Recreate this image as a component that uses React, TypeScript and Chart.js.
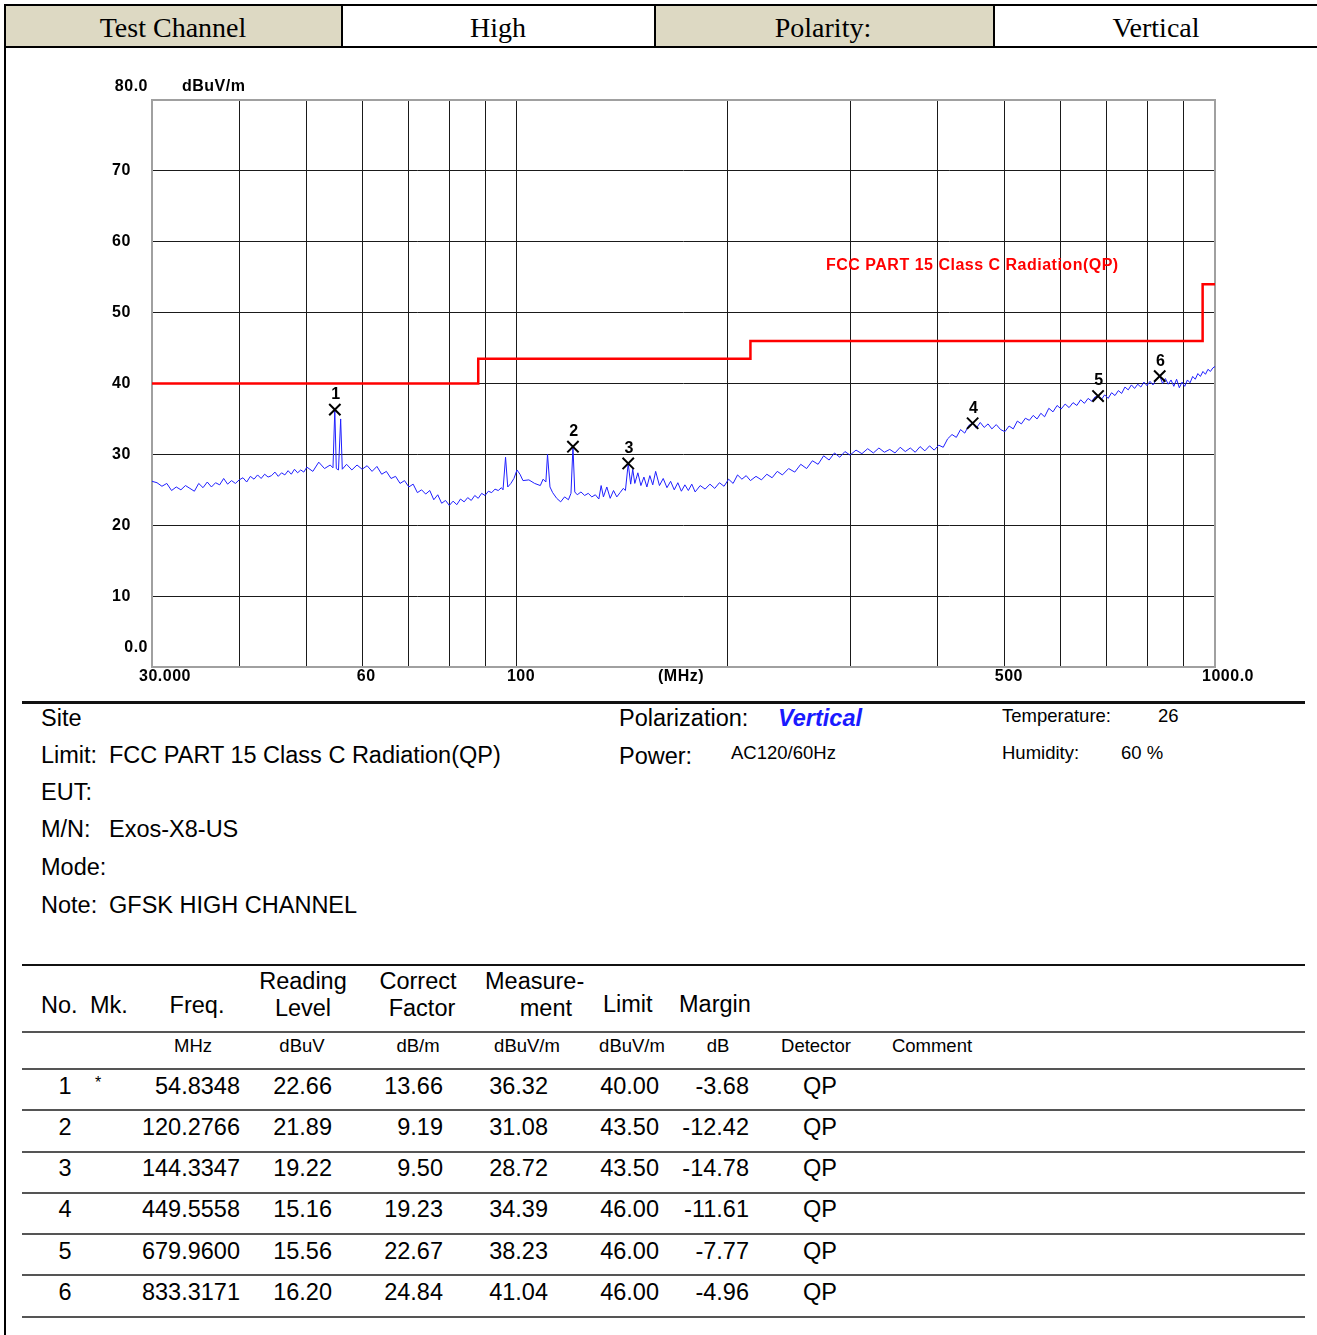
import React, { useEffect, useRef } from "react";
import { Chart, registerables } from "chart.js";

Chart.register(...registerables);

// ---------- DATA ----------
const lowBandFreq = [
  30, 30.5, 31, 31.5, 32, 32.5, 33, 33.5, 34, 34.5, 35, 35.5, 36, 36.5, 37, 37.5, 38, 38.5, 39, 39.5,
  40, 40.5, 41, 41.5, 42, 42.5, 43, 43.5, 44, 44.5, 45, 45.5, 46, 46.5, 47, 47.5, 48, 48.5, 49, 49.5,
  50, 51, 52, 53, 54, 54.5, 54.83, 55.1, 55.5, 55.9, 56.2, 57, 58, 59,
];
const lowBandLevel = [
  26.2, 26.0, 25.5, 25.9, 24.9, 25.4, 25.0, 25.6, 25.2, 24.8, 25.9, 25.3, 26.1, 25.4, 26.0, 25.7, 26.6, 25.8, 26.3, 25.9,
  26.4, 26.7, 26.1, 26.9, 26.5, 27.1, 26.6, 27.2, 26.8, 27.0, 27.5, 26.9, 27.4, 27.1, 27.7, 27.2, 27.9, 27.4, 27.8, 27.5,
  28.2, 27.6, 28.9, 28.0, 28.5, 28.1, 36.3, 28.0, 27.8, 35.0, 27.9, 28.6, 27.8, 28.5,
];
const midBandFreq = [
  60, 61, 62, 63, 64, 65, 66, 67, 68, 69, 70, 71, 72, 73, 74, 75, 76, 77, 78, 79,
  80, 81, 82, 83, 84, 85, 86, 87, 88, 89, 90, 91, 92, 93, 94, 95, 95.5, 96.3, 97, 98,
  99, 100, 101, 102, 104, 106, 108, 109, 110, 110.6, 111.5, 112.5, 114, 115.5, 117, 118.5, 119.5, 120.28, 121, 122,
  123.5, 125, 126.5, 128, 129.5, 131, 132, 133, 134.5, 136, 137.5, 139, 140.5, 142, 143, 144.33, 145.5, 146.5, 147.5, 149,
  150.5, 152, 153.5, 155, 156.5, 158, 160, 162, 164, 166, 168, 170, 172, 174, 176, 178, 180, 183, 186, 189,
  192, 195, 198,
];
const midBandLevel = [
  27.9, 28.4, 27.6, 28.3, 27.2, 27.6, 26.6, 26.9, 25.9, 26.3, 25.4, 25.8, 24.6, 25.0, 24.4, 24.9, 23.6, 24.3, 23.1, 23.5,
  22.8, 23.4, 22.9, 23.7, 23.3, 23.9, 23.5, 24.2, 23.8, 24.5, 24.2, 24.8, 24.6, 25.1, 24.9, 25.3, 25.0, 29.6, 25.4, 25.9,
  26.6, 27.8, 27.2, 26.3, 26.4, 25.9, 25.6, 26.5, 26.1, 30.0, 25.4, 24.6, 23.8, 23.3, 24.0, 23.6, 24.5, 31.1, 24.7, 24.3,
  24.7, 24.2, 24.5, 24.0, 24.3, 23.7, 25.6, 24.0, 25.4, 23.8, 24.9, 24.0, 24.6, 25.2, 24.9, 28.7, 25.8, 27.9, 25.9, 27.4,
  25.6, 26.8, 25.4, 27.0, 25.7, 27.6, 25.6, 26.6, 25.3, 26.2, 25.0, 26.0, 24.8, 25.7, 24.9, 25.8, 24.7, 25.6, 25.1, 25.8,
  25.2, 26.0, 25.5,
];
const highBandFreq = [
  201, 204, 207, 210, 213, 216, 220, 224, 228, 232, 236, 240, 245, 250, 255, 260, 265, 270, 275, 280,
  285, 290, 295, 300, 306, 312, 318, 324, 330, 336, 342, 348, 354, 360, 366, 372, 378, 384, 390, 396,
  402, 408, 414, 420, 426, 432, 438, 444, 449.56, 455, 461, 467, 473, 479, 486, 493, 500, 507, 514, 521,
  528, 535, 542, 549, 556, 563, 570, 578, 586, 594, 602, 610, 618, 626, 634, 642, 650, 658, 666, 673,
  679.96, 687, 695, 703, 711, 719, 727, 735, 743, 751, 759, 767, 775, 783, 791, 799, 807, 815, 823, 833.32,
  841, 849, 857, 865, 873, 881, 889, 897, 905, 913, 921, 929, 937, 945, 953, 961, 969, 977, 985, 993,
  1000,
];
const highBandLevel = [
  26.5, 25.9, 27.1, 26.5, 27.0, 26.3, 26.9, 26.4, 27.2, 26.7, 27.6, 27.1, 28.0, 27.5, 28.6, 28.0, 29.1, 28.6, 29.8, 29.2,
  30.2, 29.6, 30.4, 29.9, 30.6, 30.1, 30.8, 30.2, 30.9, 30.3, 30.7, 30.2, 31.0, 30.4, 30.9, 30.3, 31.1, 30.5, 31.2, 30.6,
  31.3, 31.0, 32.2, 32.8, 32.4, 33.5, 33.0, 34.1, 34.4, 33.7, 34.5, 33.8, 34.3, 33.6, 34.2, 33.5, 33.2, 34.0, 33.6, 34.7,
  34.3, 35.1, 34.8, 35.5, 35.0, 35.8, 35.3, 36.5, 36.0, 36.9, 36.4, 37.1, 36.6, 37.3, 36.9, 37.7, 37.2, 37.9, 37.5, 38.1,
  38.2, 37.7, 38.4, 37.9, 38.7, 38.3, 39.0, 38.6, 39.5, 39.1, 39.8, 39.3, 39.9, 39.5, 40.2, 39.7, 40.3, 39.8, 40.5, 41.1,
  40.0, 40.7, 39.9, 40.5, 39.6, 40.6, 39.4, 40.2, 39.6, 40.5, 40.1, 41.0, 40.6, 41.4, 41.0, 41.7, 41.3, 42.0, 41.7, 42.2,
  42.4,
];

const limitFreq = [30, 88, 88, 216, 216, 960, 960, 1000];
const limitLevel = [40, 40, 43.5, 43.5, 46, 46, 54, 54];

const markerFreq = [54.8348, 120.2766, 144.3347, 449.5558, 679.96, 833.3171];
const markerLevel = [36.32, 31.08, 28.72, 34.39, 38.23, 41.04];
const readingLevel = [22.66, 21.89, 19.22, 15.16, 15.56, 16.2];
const correctFactor = [13.66, 9.19, 9.5, 19.23, 22.67, 24.84];
const limitAtMarker = [40.0, 43.5, 43.5, 46.0, 46.0, 46.0];
const marginDb = [-3.68, -12.42, -14.78, -11.61, -7.77, -4.96];

const xGridValues = [30, 40, 50, 60, 70, 80, 90, 100, 200, 300, 400, 500, 600, 700, 800, 900, 1000];
const xLabelValues = [30, 60, 100, 500, 1000];
const xLabelTexts = ["30.000", "60", "100", "500", "1000.0"];
const yLabelValues = [80, 70, 60, 50, 40, 30, 20, 10, 0];
const yLabelTexts = ["80.0", "70", "60", "50", "40", "30", "20", "10", "0.0"];

// ---------- LAYOUT HELPERS ----------
const SANS = '"Liberation Sans", Arial, sans-serif';
const SERIF = '"Liberation Serif", "Times New Roman", serif';
const BODY = 23.5;
const SMALL = 18.5;

type TxtProps = {
  x: number;
  y: number;
  children: React.ReactNode;
  size?: number;
  align?: "left" | "right" | "center";
  font?: string;
  color?: string;
  weight?: string;
  italic?: boolean;
};

function Txt({ x, y, children, size = BODY, align = "left", font = SANS, color = "#000", weight = "normal", italic = false }: TxtProps) {
  const lh = Math.round(size * 1.2);
  const style: React.CSSProperties = {
    position: "absolute",
    top: y - lh / 2,
    height: lh,
    lineHeight: lh + "px",
    fontSize: size,
    fontFamily: font,
    color,
    fontWeight: weight as any,
    fontStyle: italic ? "italic" : "normal",
    whiteSpace: "pre",
  };
  if (align === "left") {
    style.left = x;
  } else if (align === "right") {
    style.left = x - 400;
    style.width = 400;
    style.textAlign = "right";
  } else {
    style.left = x - 200;
    style.width = 400;
    style.textAlign = "center";
  }
  return <div style={style}>{children}</div>;
}

function Box({ x, y, w, h, color = "#000" }: { x: number; y: number; w: number; h: number; color?: string }) {
  return <div style={{ position: "absolute", left: x, top: y, width: w, height: h, background: color }} />;
}

const CANVAS_TOP = 50;
const CANVAS_W = 1317;
const CANVAS_H = 650;

export default function App() {
  const ref = useRef<HTMLCanvasElement>(null);

  useEffect(() => {
    const canvas = ref.current;
    if (!canvas) return;

    const traceFreq = [...lowBandFreq, ...midBandFreq, ...highBandFreq];
    const traceLevel = [...lowBandLevel, ...midBandLevel, ...highBandLevel];
    const traceData = traceFreq.map((f, i) => ({ x: f, y: traceLevel[i] }));
    const limitData = limitFreq.map((f, i) => ({ x: f, y: limitLevel[i] }));
    const markerData = markerFreq.map((f, i) => ({ x: f, y: markerLevel[i] }));

    const overlay = {
      id: "overlay",
      beforeDatasetsDraw(chart: any) {
        const { ctx, chartArea } = chart;
        ctx.save();
        ctx.strokeStyle = "#a0a0a0";
        ctx.lineWidth = 2;
        ctx.strokeRect(chartArea.left, chartArea.top, chartArea.right - chartArea.left, chartArea.bottom - chartArea.top);
        ctx.restore();
      },
      afterDatasetsDraw(chart: any) {
        const { ctx, chartArea, scales } = chart;
        const xs = scales.x;
        const ys = scales.y;
        ctx.save();
        ctx.font = 'bold 16px "Liberation Sans", Arial, sans-serif';
        (ctx as any).letterSpacing = "0.5px";
        ctx.fillStyle = "#000";
        ctx.textBaseline = "middle";
        // y labels
        yLabelValues.forEach((v, i) => {
          let py = ys.getPixelForValue(v);
          if (v === 80 || v === 0) {
            ctx.textAlign = "right";
            py -= v === 80 ? 13 : 19;
            ctx.fillText(yLabelTexts[i], chartArea.left - 4, py);
          } else {
            ctx.textAlign = "left";
            ctx.fillText(yLabelTexts[i], chartArea.left - 40, py);
          }
        });
        // unit
        ctx.textAlign = "left";
        ctx.fillText("dBuV/m", chartArea.left + 30, ys.getPixelForValue(80) - 13);
        // x labels
        ctx.textAlign = "center";
        xLabelValues.forEach((v, i) => {
          let px = xs.getPixelForValue(v) + 4;
          if (i === 0 || i === xLabelValues.length - 1) px += 9;
          ctx.fillText(xLabelTexts[i], px, chartArea.bottom + 10);
        });
        ctx.fillText("(MHz)", chartArea.left + 529, chartArea.bottom + 10);
        // marker numbers
        markerFreq.forEach((f, i) => {
          const px = xs.getPixelForValue(f);
          const py = ys.getPixelForValue(markerLevel[i]);
          ctx.fillText(String(i + 1), px + 1, py - 15);
        });
        // limit caption
        ctx.fillStyle = "#ff0000";
        ctx.textAlign = "left";
        ctx.fillText("FCC PART 15 Class C Radiation(QP)", chartArea.left + 674, chartArea.top + 166);
        ctx.restore();
      },
    };

    const gridCfg = { color: "#1a1a1a", lineWidth: 1, drawTicks: false };

    const chart = new Chart(canvas, {
      type: "line",
      data: {
        datasets: [
          {
            type: "line",
            data: limitData,
            borderColor: "#ff0000",
            borderWidth: 2.5,
            pointRadius: 0,
            tension: 0,
            order: 2,
          },
          {
            type: "line",
            data: traceData,
            borderColor: "#1f1fff",
            borderWidth: 1,
            pointRadius: 0,
            tension: 0,
            order: 1,
          },
          {
            type: "scatter",
            data: markerData,
            pointStyle: "crossRot",
            pointRadius: 8,
            borderColor: "#000",
            backgroundColor: "#000",
            pointBorderWidth: 2,
            borderWidth: 2,
            showLine: false,
            order: 0,
          } as any,
        ],
      },
      options: {
        animation: false,
        responsive: false,
        devicePixelRatio: 1,
        events: [],
        layout: { padding: { left: 152, right: CANVAS_W - 1215, top: 100 - CANVAS_TOP, bottom: CANVAS_TOP + CANVAS_H - 667 } },
        plugins: { legend: { display: false }, tooltip: { enabled: false } },
        scales: {
          x: {
            type: "logarithmic",
            min: 30,
            max: 1000,
            grid: gridCfg,
            border: { display: false },
            ticks: { display: false },
            afterBuildTicks: (s: any) => {
              s.ticks = xGridValues.map((v) => ({ value: v }));
            },
            afterFit: (s: any) => {
              s.height = 0;
            },
          },
          y: {
            type: "linear",
            min: 0,
            max: 80,
            grid: gridCfg,
            border: { display: false },
            ticks: { display: false, stepSize: 10 },
            afterFit: (s: any) => {
              s.width = 0;
            },
          },
        },
      } as any,
      plugins: [overlay],
    });

    return () => chart.destroy();
  }, []);

  const rowY = [1086, 1127, 1168, 1209, 1251, 1292];
  const rowLines = [1031, 1068, 1109, 1151, 1192, 1233, 1274, 1316];
  const beige = "rgb(221,217,195)";

  return (
    <div style={{ position: "absolute", left: 0, top: 0, width: 1317, height: 1335, background: "#fff", overflow: "hidden" }}>
      {/* header cells */}
      <Box x={5} y={5} w={337} h={42} color={beige} />
      <Box x={655} y={5} w={339} h={42} color={beige} />
      <Box x={4} y={4} w={1313} h={2} />
      <Box x={4} y={46} w={1313} h={2} />
      <Box x={341} y={4} w={2} h={44} />
      <Box x={654} y={4} w={2} h={44} />
      <Box x={993} y={4} w={2} h={44} />
      <Box x={4} y={4} w={2} h={1331} />
      <Txt x={173} y={28} size={28} align="center" font={SERIF}>Test Channel</Txt>
      <Txt x={498} y={28} size={28} align="center" font={SERIF}>High</Txt>
      <Txt x={823} y={28} size={28} align="center" font={SERIF}>Polarity:</Txt>
      <Txt x={1156} y={28} size={28} align="center" font={SERIF}>Vertical</Txt>

      <canvas
        ref={ref}
        width={CANVAS_W}
        height={CANVAS_H}
        style={{ position: "absolute", left: 0, top: CANVAS_TOP, width: CANVAS_W, height: CANVAS_H }}
      />

      {/* info section */}
      <Box x={22} y={701} w={1283} h={3} color="#111" />
      <Txt x={41} y={718}>Site</Txt>
      <Txt x={41} y={755}>Limit:</Txt>
      <Txt x={109} y={755}>FCC PART 15 Class C Radiation(QP)</Txt>
      <Txt x={41} y={792}>EUT:</Txt>
      <Txt x={41} y={829}>M/N:</Txt>
      <Txt x={109} y={829}>Exos-X8-US</Txt>
      <Txt x={41} y={867}>Mode:</Txt>
      <Txt x={41} y={905}>Note:</Txt>
      <Txt x={109} y={905}>GFSK HIGH CHANNEL</Txt>

      <Txt x={619} y={718}>Polarization:</Txt>
      <Txt x={778} y={718} color="#1a1aff" weight="bold" italic>Vertical</Txt>
      <Txt x={619} y={756}>Power:</Txt>
      <Txt x={731} y={753} size={SMALL}>AC120/60Hz</Txt>
      <Txt x={1002} y={716} size={SMALL}>Temperature:</Txt>
      <Txt x={1158} y={716} size={SMALL}>26</Txt>
      <Txt x={1002} y={753} size={SMALL}>Humidity:</Txt>
      <Txt x={1121} y={753} size={SMALL}>60 %</Txt>

      {/* table */}
      <Box x={22} y={964} w={1283} h={2} color="#111" />
      {rowLines.map((y, i) => (
        <Box key={i} x={22} y={y} w={1283} h={2} color="#555" />
      ))}
      <Txt x={41} y={1005}>No.</Txt>
      <Txt x={90} y={1005}>Mk.</Txt>
      <Txt x={197} y={1005} align="center">Freq.</Txt>
      <Txt x={303} y={981} align="center">Reading</Txt>
      <Txt x={303} y={1008} align="center">Level</Txt>
      <Txt x={418} y={981} align="center">Correct</Txt>
      <Txt x={422} y={1008} align="center">Factor</Txt>
      <Txt x={485} y={981}>Measure-</Txt>
      <Txt x={572} y={1008} align="right">ment</Txt>
      <Txt x={603} y={1004}>Limit</Txt>
      <Txt x={679} y={1004}>Margin</Txt>

      <Txt x={193} y={1046} size={SMALL} align="center">MHz</Txt>
      <Txt x={302} y={1046} size={SMALL} align="center">dBuV</Txt>
      <Txt x={418} y={1046} size={SMALL} align="center">dB/m</Txt>
      <Txt x={527} y={1046} size={SMALL} align="center">dBuV/m</Txt>
      <Txt x={632} y={1046} size={SMALL} align="center">dBuV/m</Txt>
      <Txt x={718} y={1046} size={SMALL} align="center">dB</Txt>
      <Txt x={816} y={1046} size={SMALL} align="center">Detector</Txt>
      <Txt x={932} y={1046} size={SMALL} align="center">Comment</Txt>

      {rowY.map((y, i) => (
        <React.Fragment key={i}>
          <Txt x={65} y={y} align="center">{String(i + 1)}</Txt>
          {i === 0 ? <Txt x={98} y={y - 4} size={16} align="center">*</Txt> : null}
          <Txt x={240} y={y} align="right">{markerFreq[i].toFixed(4)}</Txt>
          <Txt x={332} y={y} align="right">{readingLevel[i].toFixed(2)}</Txt>
          <Txt x={443} y={y} align="right">{correctFactor[i].toFixed(2)}</Txt>
          <Txt x={548} y={y} align="right">{markerLevel[i].toFixed(2)}</Txt>
          <Txt x={659} y={y} align="right">{limitAtMarker[i].toFixed(2)}</Txt>
          <Txt x={749} y={y} align="right">{marginDb[i].toFixed(2)}</Txt>
          <Txt x={820} y={y} align="center">QP</Txt>
        </React.Fragment>
      ))}
    </div>
  );
}
